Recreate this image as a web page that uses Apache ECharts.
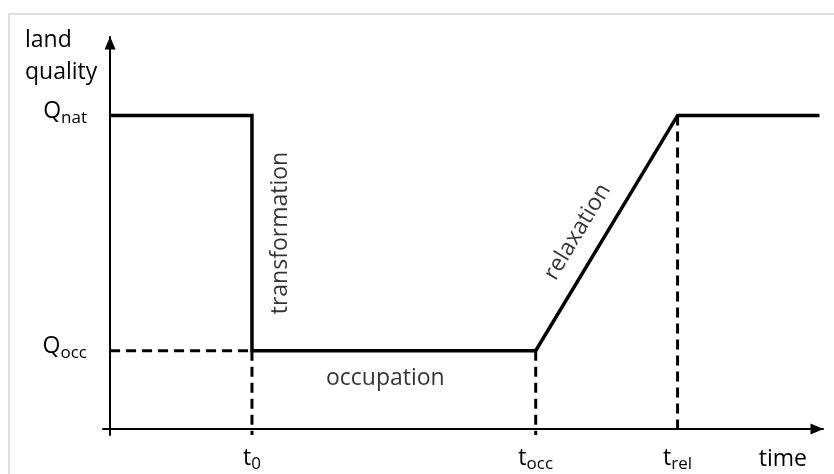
<!DOCTYPE html>
<html lang="en">
<head>
    <meta charset="UTF-8">
    <title>land quality</title>
    <script src="https://cdn.jsdelivr.net/npm/echarts@6/dist/echarts.min.js"></script>
    <style>
        html, body { margin: 0; padding: 0; background: #fff; }
        .box { width: 834px; height: 474px; }
    </style>
</head>
<body>
    <div class="box"></div>
    <script>
        // time marks and quality levels (arbitrary units)
        var tickTimes = [2, 6, 8]
        var tickNames = [['t', '0'], ['t', 'occ'], ['t', 'rel']]
        var levels = [2, 8]
        var levelNames = [['Q', 'occ'], ['Q', 'nat']]

        // land quality over time
        var qualityPath = [[0, 8], [2, 8], [2, 2], [6, 2], [8, 8], [10, 8]]

        // dashed guide lines
        var guideQocc = [[0, 2], [2, 2]]
        var guideT0 = [[2, 2], [2, -0.15]]
        var guideTocc = [[6, 2], [6, -0.15]]
        var guideTrel = [[8, 8], [8, -0.15]]

        // phase annotations: [x, y, text, rotation]
        var phases = [
            [2.4, 5, 'transformation', 90],
            [3.88, 1.28, 'occupation', 0],
            [6.59, 5.03, 'relaxation', 59]
        ]

        var font = '"Open Sans", "Noto Sans", sans-serif'
        var rich = {
            b: { fontSize: 23, fontFamily: font, color: '#000', lineHeight: 30 },
            s: { fontSize: 17, fontFamily: font, color: '#000', lineHeight: 16, verticalAlign: 'bottom' }
        }

        function subLabel(vals, names) {
            return function (v) {
                for (var i = 0; i < vals.length; i++) {
                    if (Math.abs(vals[i] - v) < 1e-6) {
                        return '{b|' + names[i][0] + '}{s|' + names[i][1] + '}'
                    }
                }
                return ''
            }
        }

        function guide(data) {
            return {
                type: 'line',
                data: data,
                symbol: 'none',
                silent: true,
                clip: false,
                lineStyle: { color: '#000', width: 3, type: [10, 6] }
            }
        }

        let chart = echarts.init(document.querySelector('.box'))

        let option = {
            animation: false,
            graphic: [{
                type: 'rect',
                shape: { x: 9, y: 14, width: 900, height: 500 },
                style: { fill: 'none', stroke: '#dedede', lineWidth: 2 },
                silent: true
            }],
            title: {
                text: 'land\nquality',
                left: 25,
                top: 24,
                padding: 0,
                textStyle: { fontSize: 23, fontWeight: 'normal', fontFamily: font, color: '#000', lineHeight: 32 }
            },
            grid: { left: 103, right: 11, top: 37, bottom: 39, outerBoundsMode: 'none' },
            xAxis: {
                type: 'value',
                min: -0.1,
                max: 10.05,
                name: 'time',
                nameLocation: 'end',
                nameGap: -16,
                nameTextStyle: {
                    fontSize: 23, fontFamily: font, color: '#000',
                    align: 'right', verticalAlign: 'top', lineHeight: 30, padding: [15, 0, 0, 0]
                },
                axisLine: {
                    onZero: true,
                    symbol: ['none', 'triangle'],
                    symbolSize: [11, 13],
                    symbolOffset: [0, -6],
                    lineStyle: { color: '#000', width: 2 }
                },
                axisTick: { show: false },
                splitLine: { show: false },
                axisLabel: {
                    customValues: tickTimes,
                    margin: 8,
                    formatter: subLabel(tickTimes, tickNames),
                    rich: rich
                }
            },
            yAxis: {
                type: 'value',
                min: -0.15,
                max: 10,
                axisLine: {
                    onZero: true,
                    symbol: ['none', 'triangle'],
                    symbolSize: [11, 13],
                    symbolOffset: [0, -6],
                    lineStyle: { color: '#000', width: 2 }
                },
                axisTick: { show: false },
                splitLine: { show: false },
                axisLabel: {
                    customValues: levels,
                    margin: 16,
                    padding: [0, 0, 8, 0],
                    formatter: subLabel(levels, levelNames),
                    rich: rich
                }
            },
            series: [
                guide(guideQocc),
                guide(guideT0),
                guide(guideTocc),
                guide(guideTrel),
                {
                    type: 'line',
                    data: qualityPath,
                    symbol: 'none',
                    silent: true,
                    clip: false,
                    lineStyle: { color: '#000', width: 3.5, join: 'miter' }
                },
                {
                    type: 'scatter',
                    symbolSize: 0,
                    silent: true,
                    data: phases.map(function (p) {
                        return {
                            value: [p[0], p[1]],
                            label: { rotate: p[3] }
                        }
                    }),
                    label: {
                        show: true,
                        position: 'inside',
                        fontSize: 23,
                        fontFamily: font,
                        color: '#000',
                        formatter: function (p) { return phases[p.dataIndex][2] }
                    }
                }
            ]
        }
        chart.setOption(option)
    </script>
</body>
</html>
